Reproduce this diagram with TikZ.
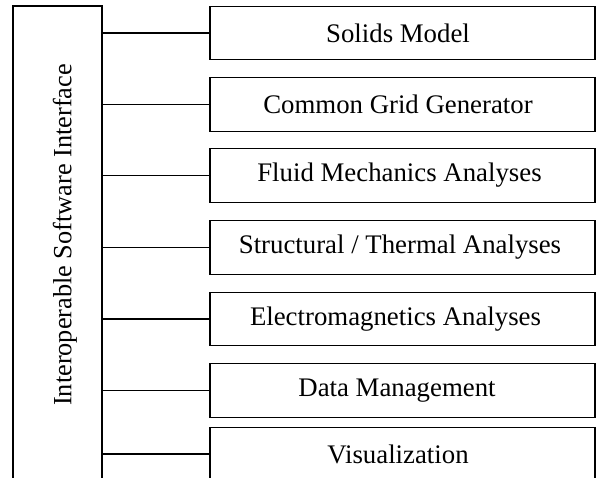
\documentclass[tikz,border=0pt]{standalone}
\usepackage{fontspec}
\setmainfont{Liberation Serif}
\begin{document}
\begin{tikzpicture}[x=1pt,y=-1pt,
  box/.style={draw=black,line width=1.3pt,rectangle,inner sep=0pt,minimum width=385pt,minimum height=53.5pt},
  lbl/.style={inner sep=0pt,font=\fontsize{26.8}{32}\selectfont},
  conn/.style={draw=black,line width=1.3pt}]
\clip (0,0) rectangle (600,478);
% left interface box
\node[draw=black,line width=1.3pt,rectangle,inner sep=0pt,minimum width=89pt,minimum height=476pt] (iface) at (57.5,244) {};
\node[inner sep=0pt,rotate=90,font=\fontsize{26.3}{32}\selectfont] (ifacetext) at (65,235) {Interoperable Software Interface};
% right boxes
\node[box] (b1) at (402.5,33) {};
\node[box] (b2) at (402.5,104.5) {};
\node[box] (b3) at (402.5,175.5) {};
\node[box] (b4) at (402.5,247.5) {};
\node[box] (b5) at (402.5,319) {};
\node[box] (b6) at (402.5,390.5) {};
\node[box] (b7) at (402.5,454) {};
\node[lbl] (t1) at (398,33) {Solids Model};
\node[lbl] (t2) at (398,104.5) {Common Grid Generator};
\node[lbl] (t3) at (399.5,175.5) {Fluid Mechanics Analyses};
\node[lbl] (t4) at (400,247.5) {Structural / Thermal Analyses};
\node[lbl] (t5) at (395.5,319) {Electromagnetics Analyses};
\node[lbl] (t6) at (397,390.5) {Data Management};
\node[lbl] (t7) at (398,454) {Visualization};
% connectors
\foreach \b in {b1,b2,b3,b4,b5,b6,b7}
  \draw[conn] (\b.west) -- (\b.west -| iface.east);
\end{tikzpicture}
\end{document}
